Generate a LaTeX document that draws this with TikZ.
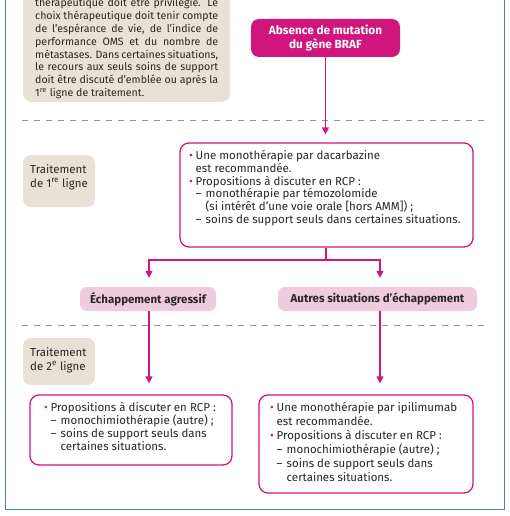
\documentclass[tikz,border=0pt]{standalone}
\usepackage{fontspec}
\setmainfont{Fira Sans}
\usetikzlibrary{arrows.meta}
\definecolor{mag}{RGB}{208,22,125}
\definecolor{beige}{RGB}{232,225,213}
\definecolor{pinkl}{RGB}{238,203,221}
\definecolor{frameblue}{RGB}{74,127,181}
\definecolor{txt}{RGB}{40,38,38}
\definecolor{dashgray}{RGB}{150,150,150}
\newcommand{\pbul}{\makebox[6.5pt][l]{\textcolor{mag}{\textbullet}}}
\newcommand{\pdash}{\makebox[10pt][l]{–}}
\newcommand{\jl}[1]{\makebox[183pt][s]{#1}}
\begin{document}
\begin{tikzpicture}[x=1pt,y=-1pt,
  every node/.style={font=\fontsize{11.5}{12.8}\selectfont, text=txt},
  beigebox/.style={draw=none, fill=beige, rounded corners=8pt},
  magbox/.style={draw=mag, line width=1.3pt, fill=white, rounded corners=9pt},
  pinkbox/.style={fill=pinkl, rounded corners=7pt, inner sep=0pt, font=\fontsize{11.5}{12.8}\selectfont\bfseries},
  conn/.style={draw=mag, line width=1.3pt},
  arr/.style={conn, -{Triangle[width=7pt,length=7pt]}},
  sep/.style={draw=dashgray, line width=1pt, dash pattern=on 6pt off 6pt},
  txtnode/.style={anchor=base west, inner sep=0pt, align=left}]
\useasboundingbox (0,0) rectangle (509,516);
\clip (0,0) rectangle (509,516);
% frame
\draw[frameblue, line width=1.8pt] (5.5,-10) -- (5.5,509.5) -- (504.5,509.5) -- (504.5,-10);
% top left note
\node[beigebox, minimum width=207pt, minimum height=120pt, anchor=south west] (note) at (23,102) {};
\node[txtnode, font=\fontsize{10.6}{12.8}\selectfont] (notetxt) at (35,96.6) {\jl{thérapeutique doit être privilégié. Le}\\
\jl{choix thérapeutique doit tenir compte}\\
\jl{de l’espérance de vie, de l’indice de}\\
\jl{performance OMS et du nombre de}\\
\jl{métastases. Dans certaines situations,}\\
\jl{le recours aux seuls soins de support}\\
\jl{doit être discuté d’emblée ou après la}\\
1\textsuperscript{re} ligne de traitement.};
% absence box
\node[fill=mag, rounded corners=8pt, minimum width=149pt, minimum height=38pt, inner sep=0pt, align=center,
  text=white, font=\fontsize{11.8}{14}\selectfont\bfseries] (abs) at (325.5,38) {Absence de mutation\\du gène BRAF};
% separators
\draw[sep] (22,120) -- (487,120);
\draw[sep] (22,325) -- (487,325);
% labels
\node[beigebox, minimum width=72pt, minimum height=52pt] (lab1) at (59,181) {};
\node[txtnode, font=\fontsize{11.5}{14}\selectfont] (lab1t) at (30,187) {Traitement\\de 1\textsuperscript{re} ligne};
\node[beigebox, minimum width=72pt, minimum height=47pt] (lab2) at (59,361.5) {};
\node[txtnode, font=\fontsize{11.5}{14}\selectfont] (lab2t) at (30,370) {Traitement\\de 2\textsuperscript{e} ligne};
% box 1st line
\node[magbox, minimum width=293pt, minimum height=104pt] (b1) at (326.5,195) {};
\node[txtnode] (b1t) at (189,223.5) {\pbul Une monothérapie par dacarbazine\\
\hspace*{6.5pt}est recommandée.\\
\pbul Propositions à discuter en RCP :\\
\hspace*{6.5pt}\pdash monothérapie par témozolomide\\
\hspace*{16.5pt}(si intérêt d’une voie orale [hors AMM]) ;\\
\hspace*{6.5pt}\pdash soins de support seuls dans certaines situations.};
% escape boxes
\node[pinkbox, minimum width=136pt, minimum height=24pt] (esc1) at (148,299) {Échappement agressif};
\node[pinkbox, minimum width=199pt, minimum height=24pt] (esc2) at (377.5,299) {Autres situations d’échappement};
% 2nd line boxes
\node[magbox, minimum width=202pt, minimum height=70pt] (b2l) at (131,430) {};
\node[txtnode, font=\fontsize{11.5}{13.2}\selectfont] (b2lt) at (44,450.6) {\pbul Propositions à discuter en RCP :\\
\hspace*{6.5pt}\pdash monochimiothérapie (autre) ;\\
\hspace*{6.5pt}\pdash soins de support seuls dans\\
\hspace*{16.5pt}certaines situations.};
\node[magbox, minimum width=214pt, minimum height=98pt] (b2r) at (366,444) {};
\node[txtnode, font=\fontsize{11.5}{14}\selectfont] (b2rt) at (270,481) {\pbul Une monothérapie par ipilimumab\\
\hspace*{6.5pt}est recommandée.\\
\pbul Propositions à discuter en RCP :\\
\hspace*{6.5pt}\pdash monochimiothérapie (autre) ;\\
\hspace*{6.5pt}\pdash soins de support seuls dans\\
\hspace*{16.5pt}certaines situations.};
% connectors
\draw[arr] (abs.south) -- ([yshift=8pt]abs.south |- b1.north);
\coordinate (split) at (326,260);
\draw[conn] (b1.south -| split) -- (split);
\draw[arr] (split) -| ([xshift=1pt,yshift=9pt]esc1.north);
\draw[arr] (split) -| ([xshift=2.5pt,yshift=9pt]esc2.north);
\draw[arr] ([xshift=1pt]esc1.south) -- ([xshift=1pt,yshift=11pt]esc1.south |- b2l.north);
\draw[arr] ([xshift=2.5pt]esc2.south) -- ([xshift=2.5pt,yshift=11pt]esc2.south |- b2r.north);
\end{tikzpicture}
\end{document}
